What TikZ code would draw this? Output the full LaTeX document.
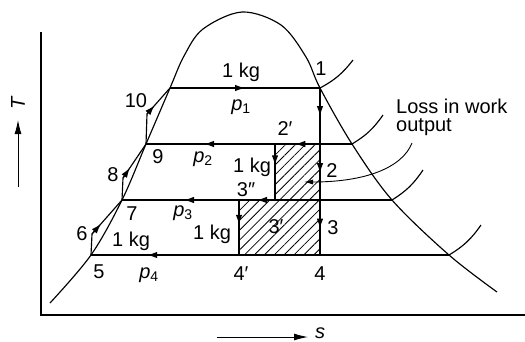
\documentclass[tikz,border=0pt]{standalone}
\usepackage{fontspec}
\setmainfont{Liberation Sans}
\usepackage{tikz}
\usetikzlibrary{arrows.meta,calc,patterns.meta}
\newcommand{\pres}[1]{\textit{p}\textsubscript{#1}}
% line from #2 to #3 with a mid arrow whose tip sits at fraction #1
\newcommand{\flowline}[3][0.5]{%
  \draw[curve] (#2) -- (#3);
  \draw[curve,-{Latex[length=10pt,width=6.5pt]}] (#2) -- ($(#2)!#1!(#3)$);}
\tikzset{
  curve/.style={line width=1.15pt},
  lbl/.style={font=\fontsize{20}{17}\selectfont,inner sep=0pt,anchor=base},
}

\begin{document}
\begin{tikzpicture}[x=1pt,y=-1pt]
\path[use as bounding box] (0,0) rectangle (525,341);

% state points
\coordinate (P1) at (320,88);
\coordinate (P2) at (320,144);
\coordinate (P3) at (320,200);
\coordinate (P4) at (320,255);
\coordinate (P2a) at (275,144);
\coordinate (P3a) at (275,200);
\coordinate (P3b) at (239,200);
\coordinate (P4a) at (239,255);
\coordinate (P5) at (91,255);
\coordinate (P6) at (92,234);
\coordinate (P7) at (122,200);
\coordinate (P8) at (123,178);
\coordinate (P9) at (146,144);
\coordinate (P10) at (147,114);
\coordinate (P11) at (170,88);
\coordinate (G2) at (352,144);
\coordinate (G3) at (392,200);
\coordinate (G4) at (449,255);

% Hatched area: lost work.
\path[pattern={Lines[angle=45,distance=7pt,line width=0.8pt]}]
  (P2a) -- (P2) -- (P4) -- (P4a) -- (P3b) -- (P3a) -- cycle;

% axes
\draw[line width=1.1pt] (41,32) -- (41,315) -- (525,315);
\draw[line width=1pt,-{Latex[length=14pt,width=7pt]}] (18,187) -- (18,120);
\node[lbl,anchor=center,rotate=90] (Tlab) at (18,103) {\textit{T}};
\draw[line width=1pt,-{Latex[length=14pt,width=7pt]}] (217,337) -- (308,337);
\node[lbl,anchor=center] (slab) at (320,333) {\textit{s}};

% saturation dome
\draw[curve] plot[smooth,tension=0.55] coordinates {(50,303) (91,255) (122,200)
  (146,144) (170,88) (184,56) (203,29) (242,12) (281,25) (306,57) (320,88)
  (352,144) (392,200) (449,255) (497,292)};

% constant-pressure lines in the superheat region
\draw[curve] (P1) to[bend right=12] (353,60);
\draw[curve] (G2) to[bend right=12] (383,115);
\draw[curve] (G3) to[bend right=12] (423,170);
\draw[curve] (G4) to[bend right=12] (481,225);

% expansion 1-2-3-4
\flowline[0.5]{P1}{P2}
\flowline[0.52]{P2}{P3}
\flowline[0.52]{P3}{P4}
\flowline[0.38]{P2a}{P3a}
\flowline[0.45]{P3b}{P4a}

% pressure lines
\flowline[0.5]{P11}{P1}
\draw[curve] (G2) -- (P2);
\flowline[0.55]{P2}{P2a}
\flowline[0.55]{P2a}{P9}
\draw[curve] (G3) -- (P3a);
\flowline[0.5]{P3a}{P3b}
\flowline[0.47]{P3b}{P7}
\draw[curve] (G4) -- (P4a);
\flowline[0.62]{P4a}{P5}

% feed heating steps
\draw[curve] (P5) -- (P6);
\flowline[0.3]{P6}{P7}
\draw[curve] (P7) -- (P8);
\flowline[0.3]{P8}{P9}
\draw[curve] (P9) -- (P10);
\flowline[0.33]{P10}{P11}

% labels
\node[lbl] (kg1) at (241,77) {1 kg};
\node[lbl] (p1) at (241,110) {\pres{1}};
\node[lbl] (n1) at (321,75) {1};
\node[lbl] (n10) at (136,107) {10};
\node[lbl] (n2a) at (285,135) {2′};
\node[lbl] (n9) at (158,163) {9};
\node[lbl] (p2) at (203,162) {\pres{2}};
\node[lbl] (kg2) at (252,172) {1 kg};
\node[lbl] (n2) at (332,177) {2};
\node[lbl] (n8) at (113,181) {8};
\node[lbl] (n3b) at (246,196) {3″};
\node[lbl] (n7) at (132,220) {7};
\node[lbl] (p3) at (183,216) {\pres{3}};
\node[lbl] (kg3) at (212,239) {1 kg};
\node[lbl] (n3a) at (276,233) {3′};
\node[lbl] (n3) at (333,234) {3};
\node[lbl] (n6) at (82,240) {6};
\node[lbl] (kg4) at (131,246) {1 kg};
\node[lbl] (n5) at (99,278) {5};
\node[lbl] (p4) at (149,278) {\pres{4}};
\node[lbl] (n4a) at (241,280) {4′};
\node[lbl] (n4) at (320,280) {4};
\node[lbl,font=\fontsize{20}{18}\selectfont,anchor=base west,align=left]
  (loss) at (396,131) {Loss in work\\output};

\coordinate (losstail) at (412,143);
\coordinate (losshead) at (304,182);
\draw[line width=0.9pt,-{Latex[length=9pt,width=5pt]}]
  (losstail) .. controls (402,168) and (365,182) .. (losshead);
\end{tikzpicture}
\end{document}
